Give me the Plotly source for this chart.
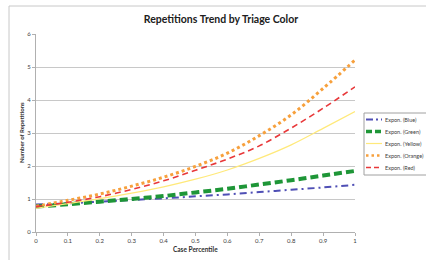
import plotly.graph_objects as go

x_vals = [0, 0.1, 0.2, 0.3, 0.4, 0.5, 0.6, 0.7, 0.8, 0.9, 1.0]
blue = [0.83, 0.87, 0.92, 0.97, 1.02, 1.08, 1.14, 1.21, 1.28, 1.35, 1.43]
green = [0.77, 0.84, 0.92, 1.00, 1.09, 1.20, 1.31, 1.44, 1.57, 1.71, 1.85]
yellow = [0.72, 0.86, 1.01, 1.18, 1.37, 1.60, 1.88, 2.23, 2.64, 3.14, 3.65]
orange = [0.78, 0.96, 1.15, 1.39, 1.66, 1.99, 2.39, 2.92, 3.55, 4.35, 5.21]
red = [0.77, 0.90, 1.07, 1.29, 1.55, 1.87, 2.21, 2.61, 3.15, 3.75, 4.40]

names = ["Expon. (Blue)", "Expon. (Green)", "Expon. (Yellow)", "Expon. (Orange)", "Expon. (Red)"]
series = [blue, green, yellow, orange, red]
colors = ["#4F4FB5", "#1E9637", "#FFE97A", "#F7A03C", "#E8383A"]
widths = [2, 4, 1.2, 3, 1.6]
dashes = ["7px,4px,2px,4px", "8px,4px", "solid", "3px,3px", "6px,4px"]
leg_widths = [2, 3.5, 1.2, 2.5, 1.6]
leg_dashes = ["7px,3px,2px,3px", "6px,3px", "solid", "2.5px,3px", "5px,3px"]

fig = go.Figure()
for n, s, c, w, d in zip(names, series, colors, widths, dashes):
    fig.add_trace(go.Scatter(x=x_vals, y=s, mode="lines", name=n, showlegend=False,
                             line=dict(color=c, width=w, dash=d, shape="spline")))

W, H = 426, 260
L, R, T, B = 36, 71, 34, 28
pw, ph = W - L - R, H - T - B

def px(xp):
    return (xp - L) / pw

def py(yp):
    return (H - B - yp) / ph

shapes = []
annotations = []
# outer chart border
shapes.append(dict(type="rect", xref="paper", yref="paper",
                   x0=px(9), x1=px(440), y0=py(275), y1=py(6),
                   line=dict(color="#C8C8C8", width=1), fillcolor="rgba(0,0,0,0)", layer="below"))
# legend box
shapes.append(dict(type="rect", xref="paper", yref="paper",
                   x0=px(364), x1=px(432), y0=py(175), y1=py(113),
                   line=dict(color="#A0A0A0", width=1), fillcolor="white"))
item_y = [119.5, 131.5, 143.5, 155.5, 167.5]
for n, c, w, d, yy in zip(names, colors, leg_widths, leg_dashes, item_y):
    shapes.append(dict(type="line", xref="paper", yref="paper",
                       x0=px(366), x1=px(382), y0=py(yy), y1=py(yy),
                       line=dict(color=c, width=w, dash=d)))
    annotations.append(dict(text=n, xref="paper", yref="paper", x=px(384), y=py(yy),
                            xanchor="left", yanchor="middle", showarrow=False,
                            width=40, height=9, align="left", borderpad=0,
                            font=dict(size=5.5, color="#404040", family="Lato")))

# axis titles as annotations for precise placement
annotations.append(dict(text="<b>Case Percentile</b>", xref="paper", yref="paper",
                        x=px(196), y=py(249), xanchor="center", yanchor="middle", showarrow=False,
                        font=dict(size=6.5, color="#303030", family="Lato")))
annotations.append(dict(text="<b>Number of Repetitions</b>", xref="paper", yref="paper",
                        x=px(21), y=py(133), xanchor="center", yanchor="middle", showarrow=False,
                        textangle=-90, font=dict(size=6, color="#303030", family="Lato")))

fig.update_layout(
    width=W, height=H,
    margin=dict(l=L, r=R, t=T, b=B),
    paper_bgcolor="white", plot_bgcolor="white",
    font=dict(family="Lato", color="#404040"),
    title=dict(text="<b>Repetitions Trend by Triage Color</b>", x=221 / W, xanchor="center",
               y=1 - 19 / H, yanchor="middle", font=dict(size=10.5, color="#202020", family="Lato")),
    shapes=shapes, annotations=annotations,
    xaxis=dict(range=[0, 1], dtick=0.1, tick0=0, showgrid=False, zeroline=False, automargin=False,
               showline=True, linecolor="#B0B0B0", linewidth=1,
               ticks="outside", ticklen=3, tickcolor="#B0B0B0",
               tickfont=dict(size=6, color="#404040")),
    yaxis=dict(range=[0, 6], dtick=1, showgrid=True, gridcolor="#C8C8C8", gridwidth=1, automargin=False,
               zeroline=False, showline=True, linecolor="#B0B0B0", linewidth=1,
               ticks="outside", ticklen=3, tickcolor="#B0B0B0",
               tickfont=dict(size=6, color="#404040")),
)

fig.write_html("out.html", config={"displayModeBar": False},
               post_script="document.body.style.margin='0';document.body.style.padding='0';document.body.style.overflow='hidden';")
